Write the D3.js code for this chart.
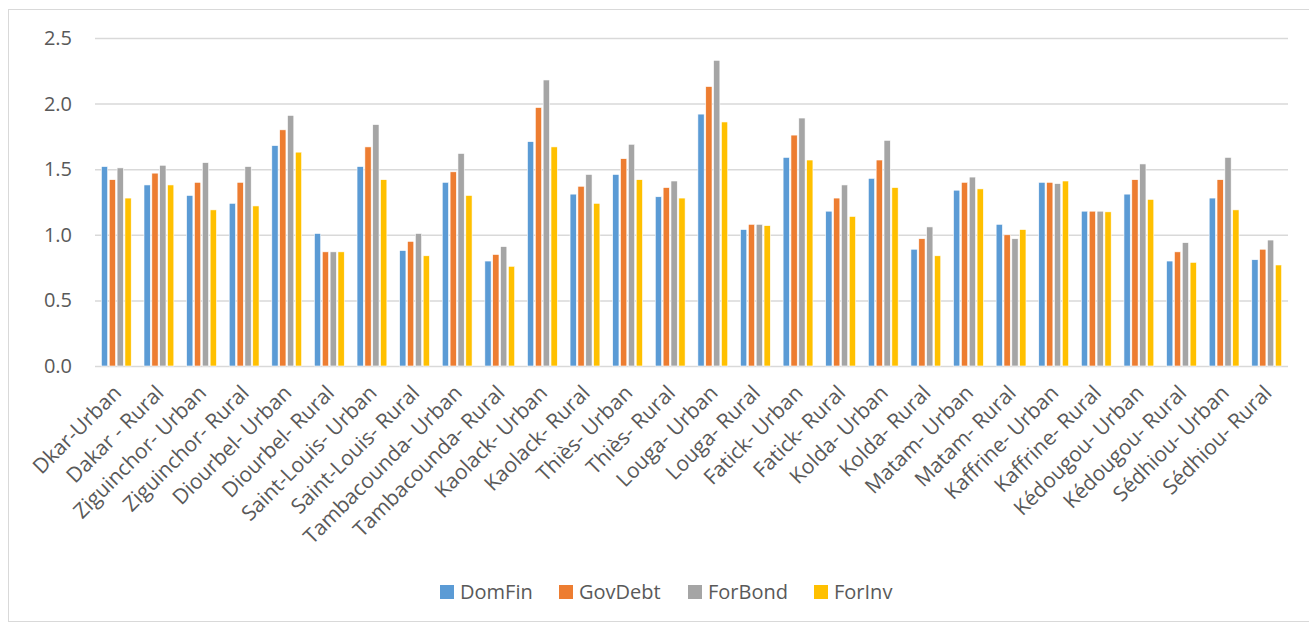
<!DOCTYPE html>
<html>
<head>
<meta charset="utf-8">
<script src="https://cdn.jsdelivr.net/npm/d3@7"></script>
<style>
  body { margin: 0; background: #fff; }
  svg { font-family: 'Open Sans', sans-serif; }
</style>
</head>
<body>
<div id="chart"></div>
<script>
;(function () {
  // Data
  var categories = [
    'Dkar-Urban', 'Dakar - Rural', 'Ziguinchor- Urban', 'Ziguinchor- Rural',
    'Diourbel- Urban', 'Diourbel- Rural', 'Saint-Louis- Urban', 'Saint-Louis- Rural',
    'Tambacounda- Urban', 'Tambacounda- Rural', 'Kaolack- Urban', 'Kaolack- Rural',
    'Thiès- Urban', 'Thiès- Rural', 'Louga- Urban', 'Louga- Rural',
    'Fatick- Urban', 'Fatick- Rural', 'Kolda- Urban', 'Kolda- Rural',
    'Matam- Urban', 'Matam- Rural', 'Kaffrine- Urban', 'Kaffrine- Rural',
    'Kédougou- Urban', 'Kédougou- Rural', 'Sédhiou- Urban', 'Sédhiou- Rural'
  ]
  var seriesNames = ['DomFin', 'GovDebt', 'ForBond', 'ForInv']
  var domFin = [1.52, 1.38, 1.30, 1.24, 1.68, 1.01, 1.52, 0.88, 1.40, 0.80, 1.71, 1.31, 1.46, 1.29,
    1.92, 1.04, 1.59, 1.18, 1.43, 0.89, 1.34, 1.08, 1.40, 1.18, 1.31, 0.80, 1.28, 0.81]
  var govDebt = [1.42, 1.47, 1.40, 1.40, 1.80, 0.87, 1.67, 0.95, 1.48, 0.85, 1.97, 1.37, 1.58, 1.36,
    2.13, 1.08, 1.76, 1.28, 1.57, 0.97, 1.40, 1.00, 1.40, 1.18, 1.42, 0.87, 1.42, 0.89]
  var forBond = [1.51, 1.53, 1.55, 1.52, 1.91, 0.87, 1.84, 1.01, 1.62, 0.91, 2.18, 1.46, 1.69, 1.41,
    2.33, 1.08, 1.89, 1.38, 1.72, 1.06, 1.44, 0.97, 1.39, 1.18, 1.54, 0.94, 1.59, 0.96]
  var forInv = [1.28, 1.38, 1.19, 1.22, 1.63, 0.87, 1.42, 0.84, 1.30, 0.76, 1.67, 1.24, 1.42, 1.28,
    1.86, 1.07, 1.57, 1.14, 1.36, 0.84, 1.35, 1.04, 1.41, 1.175, 1.27, 0.79, 1.19, 0.77]
  var yTicks = [0, 0.5, 1.0, 1.5, 2.0, 2.5]
  var colors = ['#5b9bd5', '#ed7d31', '#a5a5a5', '#ffc000']

  var allSeries = [domFin, govDebt, forBond, forInv]
  var data = categories.map((c, i) => ({
    cat: c,
    values: seriesNames.map((s, j) => ({ key: s, value: allSeries[j][i] }))
  }))

  var svgWidth = 1309, svgHeight = 626
  var margin = { top: 38, left: 95, right: 21, bottom: 260 }

  var svg = d3.select('#chart').append('svg')
    .attr('width', svgWidth)
    .attr('height', svgHeight)

  // chart border
  svg.append('rect')
    .attr('x', 8.5).attr('y', 9.5)
    .attr('width', svgWidth).attr('height', 612)
    .attr('fill', 'none')
    .attr('stroke', '#d9d9d9')
    .attr('stroke-width', 1)

  var x0 = d3.scaleBand()
    .domain(categories)
    .range([margin.left, svgWidth - margin.right])
    .paddingInner(0.3)
    .paddingOuter(0.15)

  var x1 = d3.scaleBand()
    .domain(seriesNames)
    .range([0, x0.bandwidth()])
    .paddingInner(0.2)

  var y = d3.scaleLinear()
    .domain([0, 2.5])
    .range([366, margin.top])

  var color = d3.scaleOrdinal().domain(seriesNames).range(colors)

  // gridlines + tick labels
  svg.append('g')
    .attr('transform', `translate(${margin.left}, 0)`)
    .call(d3.axisLeft(y).tickValues(yTicks).tickFormat(d3.format('.1f'))
      .tickSize(-(svgWidth - margin.right - margin.left)).tickPadding(23))
    .call(g => g.select('.domain').remove())
    .call(g => g.selectAll('.tick line').attr('stroke', '#d9d9d9').attr('stroke-width', 1.5))
    .call(g => g.selectAll('.tick text')
      .attr('fill', '#595959')
      .style('font-size', '20px')
      .style('font-family', "'Open Sans', sans-serif"))

  // bars
  svg.append('g')
    .selectAll('g')
    .data(data)
    .enter()
    .append('g')
    .attr('transform', d => `translate(${x0(d.cat)}, 0)`)
    .selectAll('rect')
    .data(d => d.values)
    .enter()
    .append('rect')
    .attr('x', d => x1(d.key))
    .attr('y', d => y(d.value))
    .attr('width', x1.bandwidth())
    .attr('height', d => y(0) - y(d.value))
    .attr('fill', d => color(d.key))
    .attr('stroke', '#fff')
    .attr('stroke-width', 0.6)

  // category labels
  svg.append('g')
    .selectAll('text')
    .data(categories)
    .enter()
    .append('text')
    .attr('transform', d => `translate(${x0(d) + x0.bandwidth() / 2 + 1}, 389) rotate(-45)`)
    .attr('text-anchor', 'end')
    .attr('dy', '0.35em')
    .attr('fill', '#595959')
    .style('font-size', '21px')
    .text(d => d)

  // legend
  var legendX = [440, 559, 688, 814]
  var legend = svg.append('g')
    .selectAll('g')
    .data(seriesNames)
    .enter()
    .append('g')
    .attr('transform', (d, i) => `translate(${legendX[i]}, 585)`)

  legend.append('rect')
    .attr('width', 14).attr('height', 14)
    .attr('fill', d => color(d))

  legend.append('text')
    .attr('x', 20).attr('y', 7)
    .attr('dy', '0.35em')
    .attr('fill', '#595959')
    .style('font-size', '20px')
    .text(d => d)
})()
</script>
</body>
</html>
